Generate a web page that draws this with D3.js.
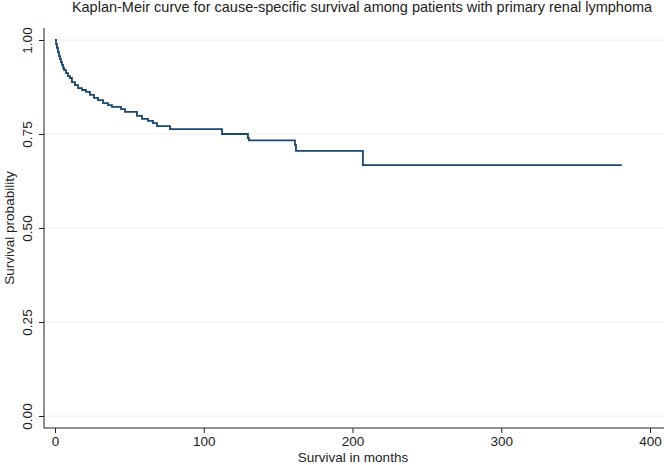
<!DOCTYPE html>
<html><head><meta charset="utf-8">
<script src="https://cdn.jsdelivr.net/npm/d3@7"></script>
<style>body{margin:0;background:#fff}svg{display:block;font-family:"Liberation Sans",Arial,sans-serif}</style>
</head><body>
<script>
const titleText = "Kaplan-Meir curve for cause-specific survival among patients with primary renal lymphoma";
const xTitle = "Survival in months";
const yTitle = "Survival probability";
const xTicks = [0, 100, 200, 300, 400];
const yTicks = [0, 0.25, 0.5, 0.75, 1];
// Kaplan-Meier step estimates (time in months, survival)
const times = [0, 0.7, 1.3, 2.0, 2.7, 3.4, 4.0, 4.7, 5.4, 6.1, 7.4, 8.7, 10.1, 11.4, 13.4, 15.5, 18.2, 20.8, 23.5, 26.2, 28.9, 32.3, 35.6, 38.3, 44.4, 47.1, 55.1, 58.5, 62.5, 65.9, 68.6, 77.3, 112.3, 129.7, 130.4, 161.3, 162.0, 207.0, 381.0];
const survival = [1.0, 0.989, 0.979, 0.968, 0.957, 0.949, 0.941, 0.934, 0.926, 0.920, 0.912, 0.904, 0.899, 0.888, 0.880, 0.872, 0.867, 0.862, 0.854, 0.846, 0.840, 0.832, 0.827, 0.822, 0.816, 0.809, 0.798, 0.790, 0.785, 0.779, 0.771, 0.763, 0.750, 0.739, 0.733, 0.721, 0.705, 0.667, 0.667];

const W = 664, H = 465;
const svg = d3.select("body").append("svg").attr("width", W).attr("height", H);
const x = d3.scaleLinear().domain([0, 400]).range([55, 650]);
const y = d3.scaleLinear().domain([0, 1]).range([416, 40]);
const axisX0 = 44, axisY0 = 428, plotTop = 28, plotRight = 664;

// gridlines
svg.append("g").selectAll("line").data(yTicks).join("line")
  .attr("x1", axisX0).attr("x2", plotRight)
  .attr("y1", d => y(d)).attr("y2", d => y(d))
  .attr("stroke", "#eaeff1").attr("stroke-width", 1);

// axes
const gy = svg.append("g").attr("transform", `translate(${axisX0},0)`)
  .call(d3.axisLeft(y).tickValues(yTicks).tickFormat(d3.format(".2f")).tickSize(5).tickPadding(4));
gy.select(".domain").remove();
gy.selectAll(".tick line").attr("stroke", "#222");
gy.selectAll(".tick text").attr("font-size", 13.5).attr("fill", "#222")
  .attr("text-anchor", "middle").attr("transform", "rotate(-90)")
  .attr("x", 0).attr("y", -17).attr("dy", "0.35em");

const gx = svg.append("g").attr("transform", `translate(0,${axisY0})`)
  .call(d3.axisBottom(x).tickValues(xTicks).tickSize(5).tickPadding(3));
gx.select(".domain").remove();
gx.selectAll(".tick line").attr("stroke", "#222");
gx.selectAll(".tick text").attr("font-size", 13.5).attr("fill", "#222");

svg.append("line").attr("x1", axisX0).attr("x2", axisX0).attr("y1", plotTop).attr("y2", axisY0)
  .attr("stroke", "#222").attr("stroke-width", 1);
svg.append("line").attr("x1", axisX0).attr("x2", plotRight).attr("y1", axisY0).attr("y2", axisY0)
  .attr("stroke", "#222").attr("stroke-width", 1);

// KM curve
const pts = times.map((t, i) => [t, survival[i]]);
const line = d3.line().x(d => x(d[0])).y(d => y(d[1])).curve(d3.curveStepAfter);
svg.append("path").datum(pts).attr("d", line)
  .attr("fill", "none").attr("stroke", "#1a476f").attr("stroke-width", 1.8);

// titles
svg.append("text").attr("x", 362).attr("y", 12).attr("text-anchor", "middle")
  .attr("font-size", 14.5).attr("fill", "#222").text(titleText);
svg.append("text").attr("x", 353).attr("y", 462).attr("text-anchor", "middle")
  .attr("font-size", 13.5).attr("fill", "#222").text(xTitle);
svg.append("text").attr("transform", `translate(9,228) rotate(-90)`).attr("text-anchor", "middle")
  .attr("dy", "0.35em").attr("font-size", 13.5).attr("fill", "#222").text(yTitle);
</script>
</body></html>
